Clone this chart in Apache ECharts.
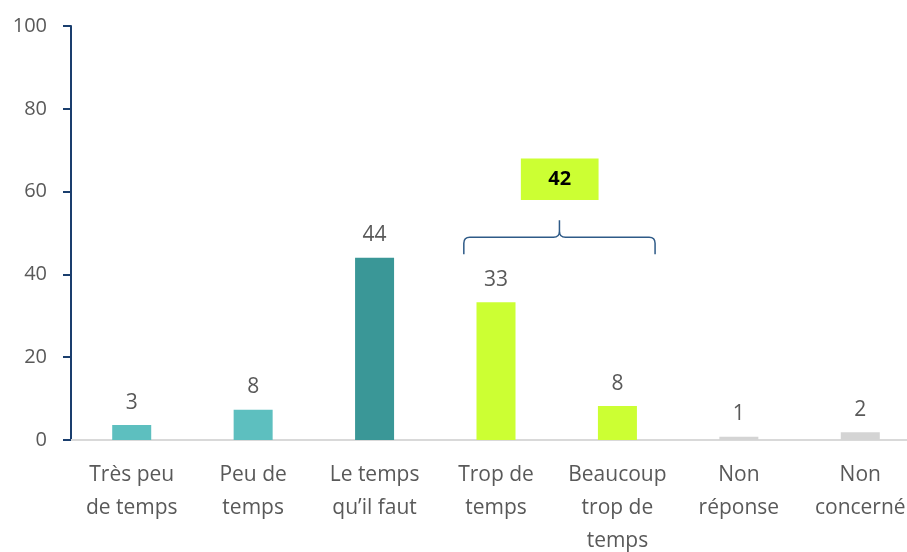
<!DOCTYPE html>
<html>
<head>
<meta charset="utf-8">
<script src="https://cdn.jsdelivr.net/npm/echarts@6/dist/echarts.min.js"></script>
<style>html,body{margin:0;padding:0;background:#fff}#c{width:907px;height:552px}</style>
</head>
<body>
<div id="c"></div>
<script>
var categories = ["Très peu\nde temps", "Peu de\ntemps", "Le temps\nqu\u2019il faut", "Trop de\ntemps", "Beaucoup\ntrop de\ntemps", "Non\nréponse", "Non\nconcerné"];
var values = [3.6, 7.3, 44, 33.3, 8.2, 0.8, 1.9];
var valueLabels = ["3", "8", "44", "33", "8", "1", "2"];
var barColors = ["#5dbfbf", "#5dbfbf", "#3a9797", "#ccff33", "#ccff33", "#d4d4d4", "#d4d4d4"];
var yTicks = [0, 20, 40, 60, 80, 100];
// bracket grouping: from category 3 to 4, bracket at y=49, box at y=63, label 42
var bracket = [[3, 49, 4, 63, "42"]];

var FONT = "Open Sans";
var chart = echarts.init(document.getElementById('c'));
chart.setOption({
  animation: false,
  grid: {left: 71, top: 26, width: 850, height: 414, outerBoundsMode: 'none', containLabel: false},
  xAxis: {
    type: 'category',
    data: categories,
    axisLine: {lineStyle: {color: '#d9d9d9', width: 2}},
    axisTick: {show: false},
    axisLabel: {color: '#595959', fontSize: 21, fontFamily: FONT, lineHeight: 33, margin: 19, interval: 0}
  },
  yAxis: {
    type: 'value',
    min: yTicks[0], max: yTicks[yTicks.length - 1], interval: 20,
    splitLine: {show: false},
    axisLine: {show: true, lineStyle: {color: '#1a3e6e', width: 2}},
    axisTick: {show: true, length: 8, lineStyle: {color: '#1a3e6e', width: 2}},
    axisLabel: {color: '#595959', fontSize: 20, fontFamily: FONT, margin: 24}
  },
  series: [{
    type: 'bar',
    data: values.map(function (v, i) { return {value: v, itemStyle: {color: barColors[i]}}; }),
    barWidth: 39,
    z: 1,
    label: {
      show: true, position: 'top', distance: 12,
      color: '#595959', fontSize: 21, fontFamily: FONT,
      formatter: function (p) { return valueLabels[p.dataIndex]; }
    }
  }, {
    type: 'custom',
    clip: false,
    z: 5,
    data: bracket,
    encode: {x: [0, 2], y: [1, 3]},
    renderItem: function (params, api) {
      var a = api.coord([api.value(0), api.value(1)]);
      var b = api.coord([api.value(2), api.value(1)]);
      var top = api.coord([api.value(0), api.value(3)]);
      var bw = b[0] - a[0];
      var L = a[0] - bw * 0.265, R = b[0] + bw * 0.31;
      var yb = a[1], ye = yb + 17, yc = yb - 17, M = (L + R) / 2, r = 6;
      var path = 'M' + L + ' ' + ye + ' L' + L + ' ' + (yb + r) +
        ' Q' + L + ' ' + yb + ' ' + (L + r) + ' ' + yb +
        ' L' + (M - r) + ' ' + yb +
        ' Q' + M + ' ' + yb + ' ' + M + ' ' + (yb - r) +
        ' L' + M + ' ' + yc +
        ' M' + M + ' ' + (yb - r) +
        ' Q' + M + ' ' + yb + ' ' + (M + r) + ' ' + yb +
        ' L' + (R - r) + ' ' + yb +
        ' Q' + R + ' ' + yb + ' ' + R + ' ' + (yb + r) +
        ' L' + R + ' ' + ye;
      var cx = (a[0] + b[0]) / 2 + 3, cy = top[1];
      var w = bw * 0.64, h = api.size([0, 10])[1];
      return {
        type: 'group',
        children: [{
          type: 'path',
          shape: {pathData: path},
          style: {fill: null, stroke: '#2e5a87', lineWidth: 1.5}
        }, {
          type: 'rect',
          shape: {x: cx - w / 2, y: cy - h / 2, width: w, height: h},
          style: {fill: '#ccff33'},
          textContent: {
            style: {text: api.value(4), fill: '#000', fontSize: 20, fontWeight: 'bold', fontFamily: FONT}
          },
          textConfig: {position: 'inside'}
        }]
      };
    }
  }]
});
</script>
</body>
</html>
